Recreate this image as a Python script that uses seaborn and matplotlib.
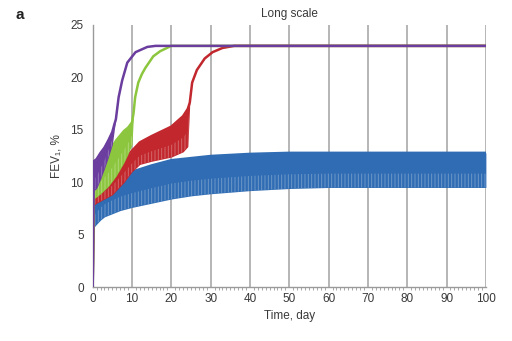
import matplotlib
matplotlib.use("Agg")
import matplotlib.pyplot as plt
import numpy as np
import pandas as pd
import seaborn as sns

# envelope of each oscillating FEV1 curve (day, trough, peak); trough == peak once smooth
blue_day = [0, 0.3, 1, 2, 3, 5, 7, 10, 15, 20, 25, 30, 40, 50, 60, 100]
blue_low = [0, 5.7, 6.0, 6.4, 6.7, 7.0, 7.3, 7.6, 8.0, 8.4, 8.7, 8.9, 9.2, 9.4, 9.5, 9.5]
blue_high = [0, 8.4, 8.8, 9.3, 9.7, 10.2, 10.6, 11.0, 11.6, 12.1, 12.3, 12.5, 12.7, 12.8, 12.8, 12.8]

red_day = [0, 0.3, 1, 2, 5, 8, 10, 12, 15, 20, 23, 24.2, 24.7, 25.3, 26.5, 28.5, 30.5, 33, 36, 100]
red_low = [0, 7.8, 8.0, 8.2, 8.8, 10.0, 11.0, 11.7, 12.0, 12.4, 12.9, 13.4, 17.6,
           19.5, 20.7, 21.8, 22.4, 22.8, 23.0, 23.0]
red_high = [0, 9.0, 9.3, 9.8, 11.0, 12.3, 13.0, 13.8, 14.4, 15.3, 16.3, 17.0, 17.6,
            19.5, 20.7, 21.8, 22.4, 22.8, 23.0, 23.0]

green_day = [0, 0.3, 1, 2, 4, 6, 8, 9, 10, 10.4, 10.8, 11.6, 12.5, 13.4, 15.4, 17.2, 20, 100]
green_low = [0, 8.4, 8.6, 8.9, 9.6, 10.6, 11.9, 12.7, 13.6, 16.6, 18.1, 19.5, 20.3, 20.9,
             22.0, 22.5, 23.0, 23.0]
green_high = [0, 10.8, 11.2, 11.8, 12.8, 14.0, 14.9, 15.2, 15.7, 16.6, 18.1, 19.5, 20.3, 20.9,
              22.0, 22.5, 23.0, 23.0]

purple_day = [0, 0.3, 1, 2, 3, 4, 5, 5.5, 5.9, 6.6, 7.5, 8.8, 10.9, 13.9, 16, 100]
purple_low = [0, 9.2, 9.4, 10.3, 11.3, 12.4, 13.6, 15.0, 16.0, 18.1, 19.7, 21.4, 22.4, 22.9, 23.0, 23.0]
purple_high = [0, 12.0, 12.2, 12.8, 13.3, 14.0, 14.8, 15.5, 16.0, 18.1, 19.7, 21.4, 22.4, 22.9, 23.0, 23.0]

# drawn lowest dose first, so each higher curve sits on top
series = [
    ("blue", blue_day, blue_low, blue_high, "#2f6cb3"),
    ("red", red_day, red_low, red_high, "#c1272d"),
    ("green", green_day, green_low, green_high, "#8cc63e"),
    ("purple", purple_day, purple_low, purple_high, "#6a3d9e"),
]

sns.set_style("white")
plt.rcParams["font.family"] = ["Liberation Sans", "DejaVu Sans"]
plt.rcParams["hatch.linewidth"] = 0.7

fig = plt.figure(figsize=(5.12, 3.41), dpi=100)
ax = fig.add_axes([0.181, 0.158, 0.768, 0.769])

for i, (name, day, low, high, color) in enumerate(series):
    df = pd.DataFrame({"day": day, "low": low, "high": high})
    df["tail"] = df["low"] + (df["high"] - df["low"]) * 0.4
    z = 2 + i
    ax.fill_between(df["day"], df["low"], df["high"], color=color, lw=0, zorder=z)
    # saw-tooth texture of the dosing oscillation on the trough side
    ax.fill_between(df["day"], df["low"], df["tail"], facecolor="none",
                    edgecolor=(1, 1, 1, 0.3), hatch="|||||", lw=0, zorder=z)
    sns.lineplot(data=df, x="day", y="high", color=color, lw=1.8, ax=ax, zorder=z)

ax.set_xlim(0, 100)
ax.set_ylim(0, 25)
ax.set_xticks(np.arange(0, 101, 10))
ax.set_yticks(np.arange(0, 26, 5))
ax.set_xticks(np.arange(0, 101, 1), minor=True)
for x in np.arange(10, 101, 10):
    ax.axvline(x, color="#b5b5b5", lw=1.4, zorder=0)

for side in ["top", "right"]:
    ax.spines[side].set_visible(False)
for side in ["left", "bottom"]:
    ax.spines[side].set_color("#9a9a9a")
    ax.spines[side].set_linewidth(1.0)

ax.tick_params(axis="both", which="major", colors="#9a9a9a", labelcolor="#3a3a3a",
               labelsize=8.5, length=3, width=0.8)
ax.tick_params(axis="x", which="major", length=0, pad=4)
ax.tick_params(axis="x", which="minor", bottom=True, colors="#9a9a9a", length=2, width=0.6)

ax.set_xlabel("Time, day", fontsize=8.5, color="#3a3a3a", labelpad=4)
ax.set_ylabel("FEV₁, %", fontsize=8.5, color="#3a3a3a", labelpad=6)
ax.set_title("Long scale", fontsize=8.5, color="#3a3a3a", pad=6)
fig.text(0.03, 0.955, "a", fontsize=11, fontweight="bold", color="#222222", va="center")

fig.savefig("out.png", dpi=100)
